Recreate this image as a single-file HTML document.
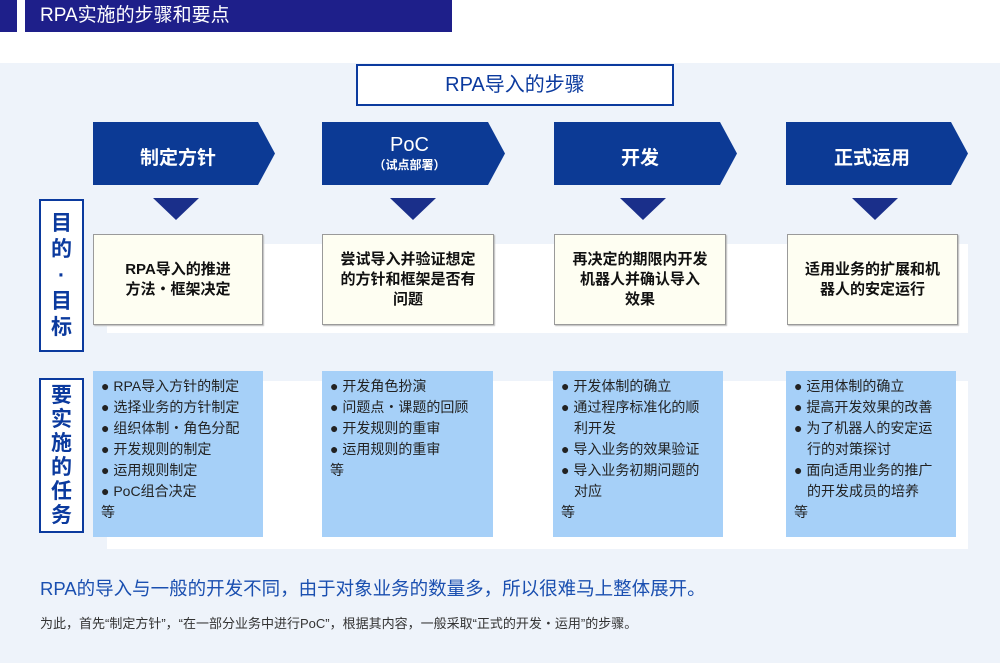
<!DOCTYPE html>
<html><head><meta charset="utf-8"><style>
*{margin:0;padding:0;box-sizing:border-box}
body{width:1000px;height:663px;background:#fff;position:relative;overflow:hidden;font-family:"Liberation Sans","Noto Sans CJK SC",sans-serif}
.a{position:absolute}
.bg{left:0;top:63px;width:1000px;height:600px;background:#eef3fa}
.strip{background:#fff}
.chev{color:#fff;text-align:center;font-weight:bold}
.lab{border:2px solid #0b3a9e;background:#fff;color:#0b3a9e;font-size:21px;font-weight:bold;text-align:center;line-height:24px;display:flex;flex-direction:column;justify-content:center;align-items:center}
.goal{background:#fefef2;border:1px solid #9a9a9a;box-shadow:1px 1px 1px #bbb;display:flex;align-items:center;justify-content:center;text-align:center;font-size:15px;font-weight:bold;line-height:20px;color:#111}
.task{background:#a6d0f8;font-size:14px;line-height:21px;color:#222;padding:5px 0 0 8px;white-space:nowrap}
.task div{padding-left:13px;text-indent:-13px}
.task div.e{padding-left:0;text-indent:0}
</style></head><body>
<div class="a" style="left:0;top:0;width:17px;height:32px;background:#1e1f8a"></div>
<div class="a" style="left:25px;top:0;width:427px;height:32px;background:#1e1f8a;color:#fff;font-size:19px;line-height:32px;padding-left:15px">RPA实施的步骤和要点</div>
<div class="a bg"></div>
<div class="a strip" style="left:107px;top:244px;width:861px;height:89px"></div>
<div class="a strip" style="left:107px;top:381px;width:861px;height:168px"></div>
<div class="a" style="left:356px;top:64px;width:318px;height:42px;border:2px solid #0b3a9e;background:#fff;color:#0b3a9e;font-size:20px;text-align:center;line-height:38px">RPA导入的步骤</div>
<svg class="a" style="left:0;top:0" width="1000" height="663">
<g fill="#0c3a95">
<polygon points="93,122 258,122 275,153.5 258,185 93,185"/>
<polygon points="322,122 488,122 505,153.5 488,185 322,185"/>
<polygon points="554,122 720,122 737,153.5 720,185 554,185"/>
<polygon points="786,122 951,122 968,153.5 951,185 786,185"/>
</g>
<g fill="#1a2f8a">
<polygon points="153,198 199,198 176,220"/>
<polygon points="390,198 436,198 413,220"/>
<polygon points="620,198 666,198 643,220"/>
<polygon points="852,198 898,198 875,220"/>
</g>
</svg>
<div class="a chev" style="left:93px;top:143px;width:170px;font-size:19px">制定方针</div>
<div class="a chev" style="left:322px;top:134px;width:175px;font-size:20px;font-weight:normal">PoC<div style="font-size:12px;font-weight:bold;line-height:16px">（试点部署）</div></div>
<div class="a chev" style="left:554px;top:143px;width:172px;font-size:19px">开发</div>
<div class="a chev" style="left:786px;top:143px;width:172px;font-size:19px">正式运用</div>
<div class="a lab" style="left:39px;top:199px;width:45px;height:153px;line-height:26px">目<br>的<br>·<br>目<br>标</div>
<div class="a lab" style="left:39px;top:378px;width:45px;height:155px">要<br>实<br>施<br>的<br>任<br>务</div>
<div class="a goal" style="left:93px;top:234px;width:170px;height:91px">RPA导入的推进<br>方法・框架决定</div>
<div class="a goal" style="left:322px;top:234px;width:172px;height:91px">尝试导入并验证想定<br>的方针和框架是否有<br>问题</div>
<div class="a goal" style="left:554px;top:234px;width:172px;height:91px">再决定的期限内开发<br>机器人并确认导入<br>效果</div>
<div class="a goal" style="left:787px;top:234px;width:171px;height:91px">适用业务的扩展和机<br>器人的安定运行</div>
<div class="a task" style="left:93px;top:371px;width:170px;height:166px"><div>● RPA导入方针的制定</div><div>● 选择业务的方针制定</div><div>● 组织体制・角色分配</div><div>● 开发规则的制定</div><div>● 运用规则制定</div><div>● PoC组合决定</div><div class="e">等</div></div>
<div class="a task" style="left:322px;top:371px;width:171px;height:166px"><div>● 开发角色扮演</div><div>● 问题点・课题的回顾</div><div>● 开发规则的重审</div><div>● 运用规则的重审</div><div class="e">等</div></div>
<div class="a task" style="left:553px;top:371px;width:170px;height:166px"><div>● 开发体制的确立</div><div>● 通过程序标准化的顺<br>利开发</div><div>● 导入业务的效果验证</div><div>● 导入业务初期问题的<br>对应</div><div class="e">等</div></div>
<div class="a task" style="left:786px;top:371px;width:170px;height:166px"><div>● 运用体制的确立</div><div>● 提高开发效果的改善</div><div>● 为了机器人的安定运<br>行的对策探讨</div><div>● 面向适用业务的推广<br>的开发成员的培养</div><div class="e">等</div></div>
<div class="a" style="left:40px;top:575px;font-size:18.5px;color:#1a4fb0;white-space:nowrap">RPA的导入与一般的开发不同，由于对象业务的数量多，所以很难马上整体展开。</div>
<div class="a" style="left:40px;top:613px;font-size:13px;color:#333;white-space:nowrap">为此，首先“制定方针”，“在一部分业务中进行PoC”，根据其内容，一般采取“正式的开发・运用”的步骤。</div>
</body></html>
